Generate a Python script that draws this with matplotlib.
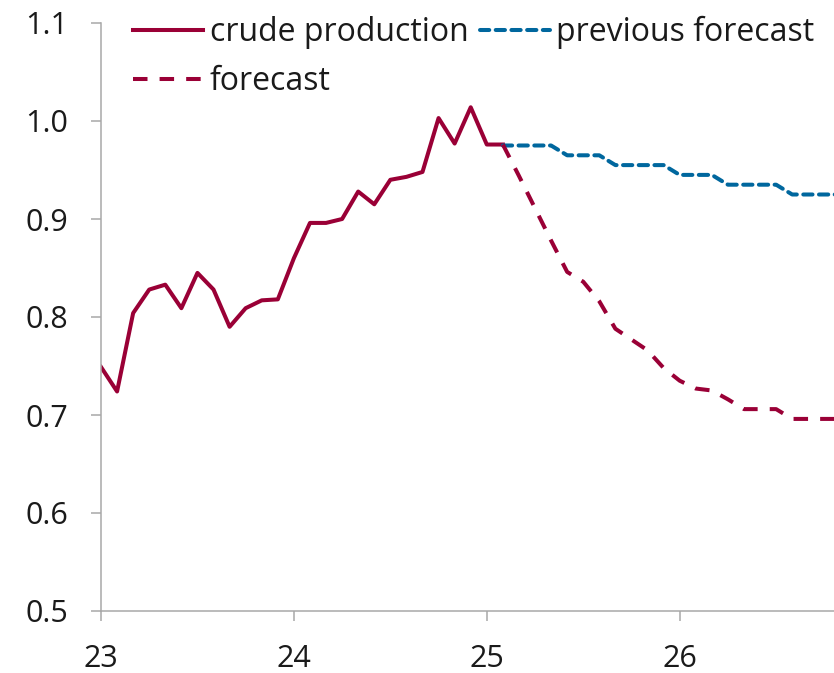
import numpy as np
import matplotlib.pyplot as plt

plt.rcParams['font.family'] = ['Open Sans', 'DejaVu Sans']

# monthly values, crude from Jan 2023, forecasts from Feb 2025
crude = [0.749, 0.724, 0.804, 0.828, 0.833, 0.809, 0.845, 0.828, 0.790, 0.809,
         0.817, 0.818, 0.860, 0.896, 0.896, 0.900, 0.928, 0.915, 0.940, 0.943,
         0.948, 1.003, 0.977, 1.014, 0.976, 0.976]
forecast = [0.976, 0.944, 0.911, 0.878, 0.846, 0.836, 0.816, 0.788, 0.777, 0.766,
            0.748, 0.735, 0.727, 0.725, 0.716, 0.706, 0.706, 0.706, 0.696, 0.696,
            0.696, 0.696]
previous = [0.975, 0.975, 0.975, 0.975, 0.965, 0.965, 0.965, 0.955, 0.955, 0.955,
            0.955, 0.945, 0.945, 0.945, 0.935, 0.935, 0.935, 0.935, 0.925, 0.925,
            0.925, 0.925]
start_year = 23
fc_start = 25   # months after Jan 2023
yticks = [0.5, 0.6, 0.7, 0.8, 0.9, 1.0, 1.1]
xticks = [23, 24, 25, 26]

red = '#9a0036'
blue = '#00679e'
grey = '#a8a8a8'
txt = '#1a1a1a'

x_crude = start_year + np.arange(len(crude)) / 12
x_fc = start_year + (fc_start + np.arange(len(forecast))) / 12

fig = plt.figure(figsize=(8.34, 6.73), dpi=100)
ax = fig.add_axes([101/834, 62/673, 733/834, 588/673])

lw = 2.9
l1, = ax.plot(x_crude, crude, color=red, lw=lw, label='crude production')
l3, = ax.plot(x_fc, previous, color=blue, lw=lw, ls=(0, (2.3, 1.6)),
              dash_capstyle='round', label='previous forecast')
l2, = ax.plot(x_fc, forecast, color=red, lw=lw, ls=(0, (3.6, 3.0)),
              label='forecast')

ax.set_xlim(23, 26.8)
ax.set_ylim(0.5, 1.1)
ax.set_yticks(yticks)
ax.set_yticklabels(['%.1f' % v for v in yticks])
ax.set_xticks(xticks)
ax.set_xticklabels([str(v) for v in xticks])

for s in ['top', 'right']:
    ax.spines[s].set_visible(False)
for s in ['left', 'bottom']:
    ax.spines[s].set_color(grey)
    ax.spines[s].set_linewidth(1.1)
ax.tick_params(axis='both', direction='out', length=7.5, width=1.1, color=grey,
               labelsize=22, labelcolor=txt)
ax.tick_params(axis='y', pad=16)
ax.tick_params(axis='x', pad=16)

ax.legend([l1, l2, l3], ['crude production', 'forecast', 'previous forecast'],
          ncol=2, loc='upper left', bbox_to_anchor=(133/834, 1 - 16/673),
          bbox_transform=fig.transFigure, frameon=False, fontsize=23,
          handlelength=2.2, handletextpad=0.2, columnspacing=0.35,
          labelspacing=0.5, borderpad=0, borderaxespad=0, labelcolor=txt)

fig.savefig('out.png', dpi=100)
